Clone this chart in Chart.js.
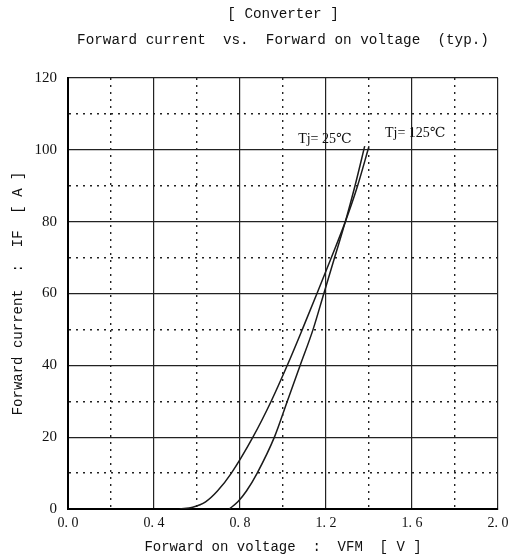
<!DOCTYPE html>
<html>
<head>
<meta charset="utf-8">
<script src="https://cdn.jsdelivr.net/npm/chart.js@4"></script>
<style>
  html, body { margin: 0; padding: 0; background: #fff; }
  #wrap { width: 515px; height: 560px; }
</style>
</head>
<body>
<div id="wrap"><canvas id="ivChart"></canvas></div>
<script>
// forward voltage [V] / forward current [A]
const vf25 = [0.75, 0.79, 0.83, 0.88, 0.96, 1.02, 1.08, 1.14, 1.19, 1.24, 1.29, 1.335, 1.38];
const if25 = [0, 2, 5, 10, 20, 30, 40, 50, 60, 70, 80, 90, 101];
const vf125 = [0.52, 0.58, 0.64, 0.695, 0.76, 0.86, 0.945, 1.02, 1.09, 1.158, 1.225, 1.29, 1.347, 1.40];
const if125 = [0, 0.5, 2, 5, 10, 20, 30, 40, 50, 60, 70, 80, 90, 101];

const curveLabels = [
  { text: "Tj= 25\u2103", v: 1.195, a: 102.8 },
  { text: "Tj= 125\u2103", v: 1.615, a: 104.7 }
];

const titleLines = ["[ Converter ]", "Forward current  vs.  Forward on voltage  (typ.)"];
const xTitle = "Forward on voltage  :  VFM  [ V ]";
const yTitle = "Forward current  :  IF  [ A ]";

const mono = "'Liberation Mono', 'DejaVu Sans Mono', monospace";
const serif = "'Liberation Serif', 'DejaVu Serif', serif";

const toPts = (xs, ys) => xs.map((x, i) => ({ x: x, y: ys[i] }));

const labelPlugin = {
  id: "curveLabels",
  afterDatasetsDraw(chart) {
    const { ctx, scales } = chart;
    ctx.save();
    ctx.font = "14px " + serif;
    ctx.fillStyle = "#111";
    ctx.textAlign = "center";
    ctx.textBaseline = "middle";
    curveLabels.forEach(l => {
      ctx.fillText(l.text, scales.x.getPixelForValue(l.v), scales.y.getPixelForValue(l.a));
    });
    ctx.restore();
  }
};

const gridDash = ctx => (ctx.tick && ctx.index % 2 === 1) ? [2, 5] : [];

new Chart(document.getElementById("ivChart"), {
  type: "scatter",
  data: {
    datasets: [
      {
        label: "Tj=25",
        data: toPts(vf25, if25),
        showLine: true,
        borderColor: "#1a1a1a",
        borderWidth: 1.5,
        pointRadius: 0,
        cubicInterpolationMode: "monotone"
      },
      {
        label: "Tj=125",
        data: toPts(vf125, if125),
        showLine: true,
        borderColor: "#1a1a1a",
        borderWidth: 1.5,
        pointRadius: 0,
        cubicInterpolationMode: "monotone"
      }
    ]
  },
  options: {
    responsive: true,
    maintainAspectRatio: false,
    animation: false,
    layout: { padding: { left: 0, right: 17, top: 0, bottom: 0 } },
    plugins: {
      legend: { display: false },
      tooltip: { enabled: false },
      title: {
        display: true,
        fullSize: false,
        text: titleLines,
        color: "#111",
        font: { family: mono, size: 14.3, weight: "normal", lineHeight: 1.76 },
        padding: { top: 2, bottom: 25.6 }
      }
    },
    scales: {
      x: {
        type: "linear",
        min: 0,
        max: 2,
        afterFit: s => { s.height = 51; },
        ticks: {
          stepSize: 0.2,
          autoSkip: false,
          maxRotation: 0,
          padding: 6,
          color: "#111",
          font: { family: serif, size: 14 },
          callback: (v, i) => i % 2 === 0 ? v.toFixed(1).replace(".", ". ") : ""
        },
        grid: { color: "#222", lineWidth: ctx => ctx.index % 2 === 1 ? 1.4 : 1.2, drawTicks: false },
        border: { display: true, color: "#000", width: 2, dash: gridDash },
        title: {
          display: true,
          text: xTitle,
          color: "#111",
          font: { family: mono, size: 14 },
          padding: { top: 0, bottom: 4.6 }
        }
      },
      y: {
        type: "linear",
        min: 0,
        max: 120,
        afterFit: s => { s.width = 68; },
        ticks: {
          stepSize: 10,
          autoSkip: false,
          padding: 11,
          color: "#111",
          font: { family: serif, size: 15 },
          callback: v => v % 20 === 0 ? v : ""
        },
        grid: { color: "#222", lineWidth: ctx => ctx.index % 2 === 1 ? 1.4 : 1.2, drawTicks: false },
        border: { display: true, color: "#000", width: 2, dash: gridDash },
        title: {
          display: true,
          text: yTitle,
          color: "#111",
          font: { family: mono, size: 14 },
          padding: { top: 10, bottom: 0 }
        }
      }
    }
  },
  plugins: [labelPlugin]
});
</script>
</body>
</html>
